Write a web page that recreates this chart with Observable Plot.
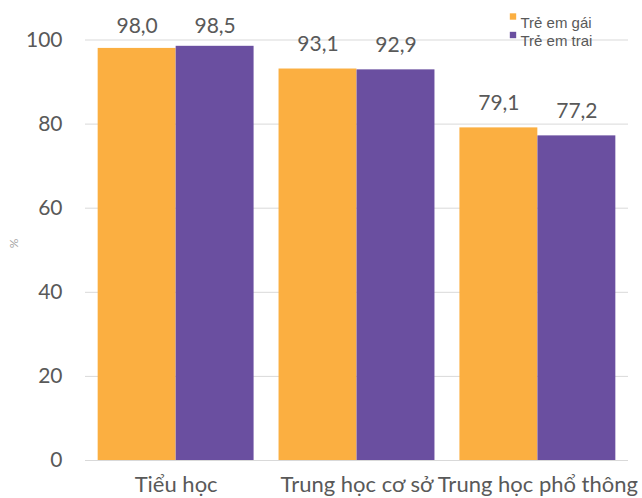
<!DOCTYPE html>
<html>
<head>
<meta charset="utf-8">
<script src="https://cdn.jsdelivr.net/npm/d3@7"></script>
<script src="https://cdn.jsdelivr.net/npm/@observablehq/plot@0.6"></script>
<style>
  body { margin: 0; background: #fff; }
  svg { display: block; }
</style>
</head>
<body>
<div id="chart"></div>
<script>
const levels = ["Tiểu học", "Trung học cơ sở", "Trung học phổ thông"];
const girls = [98.0, 93.1, 79.1];
const boys = [98.5, 92.9, 77.2];
const seriesNames = ["Trẻ em gái", "Trẻ em trai"];
const yTicks = [0, 20, 40, 60, 80, 100];
const colors = ["#FBAF41", "#6A4FA0"];

const fmt = v => v.toFixed(1).replace(".", ",");
const girlsData = levels.map((l, i) => ({level: l, value: girls[i]}));
const boysData = levels.map((l, i) => ({level: l, value: boys[i]}));

const font = "Lato, 'Open Sans', sans-serif";
const legendFont = "'Liberation Sans', Arial, sans-serif";
const textColor = "#595959";
const first = d => d.level === levels[0];
const rest = d => d.level !== levels[0];

const chart = Plot.plot({
  width: 642,
  height: 498,
  marginLeft: 85,
  marginRight: 14,
  marginTop: 39.5,
  marginBottom: 38,
  style: {fontFamily: font, color: textColor, background: "#fff"},
  x: {type: "band", domain: levels, paddingInner: 0.138, paddingOuter: 0.07, round: false, label: null},
  y: {domain: [0, 100], label: null},
  marks: [
    Plot.ruleY(yTicks, {stroke: "#D9D9D9", strokeWidth: 1}),
    Plot.barY(girlsData, {x: "level", y: "value", fill: colors[0], insetRight: 78}),
    Plot.barY(boysData, {x: "level", y: "value", fill: colors[1], insetLeft: 78}),
    Plot.text(girlsData, {filter: first, x: "level", y: "value", text: d => fmt(d.value), dx: -39, dy: -22, fontSize: 21, fill: textColor}),
    Plot.text(boysData, {filter: first, x: "level", y: "value", text: d => fmt(d.value), dx: 39, dy: -20, fontSize: 21, fill: textColor}),
    Plot.text(girlsData, {filter: rest, x: "level", y: "value", text: d => fmt(d.value), dx: -39, dy: -25, fontSize: 21, fill: textColor}),
    Plot.text(boysData, {filter: rest, x: "level", y: "value", text: d => fmt(d.value), dx: 39, dy: -25, fontSize: 21, fill: textColor}),
    Plot.axisY({ticks: yTicks, tickSize: 0, tickPadding: 23, fontSize: 21, label: null, tickFormat: d => String(d)}),
    Plot.axisX({tickSize: 0, tickPadding: 16, fontSize: 22, label: null}),
    Plot.text(["%"], {frameAnchor: "left", rotate: -90, dx: -71, dy: -2, fontSize: 12, fill: "#A6A6A6"}),
    Plot.dot([seriesNames[0]], {frameAnchor: "top-left", dx: 427.5, dy: -23.5, symbol: "square", r: 3.6, fill: colors[0]}),
    Plot.dot([seriesNames[1]], {frameAnchor: "top-left", dx: 427.5, dy: -5, symbol: "square", r: 3.6, fill: colors[1]}),
    Plot.text([seriesNames[0]], {frameAnchor: "top-left", dx: 435, dy: -23, textAnchor: "start", fontSize: 15, fontFamily: legendFont, fill: textColor}),
    Plot.text([seriesNames[1]], {frameAnchor: "top-left", dx: 435, dy: -4.5, textAnchor: "start", fontSize: 15, fontFamily: legendFont, fill: textColor})
  ]
});
document.getElementById("chart").appendChild(chart);
</script>
</body>
</html>
